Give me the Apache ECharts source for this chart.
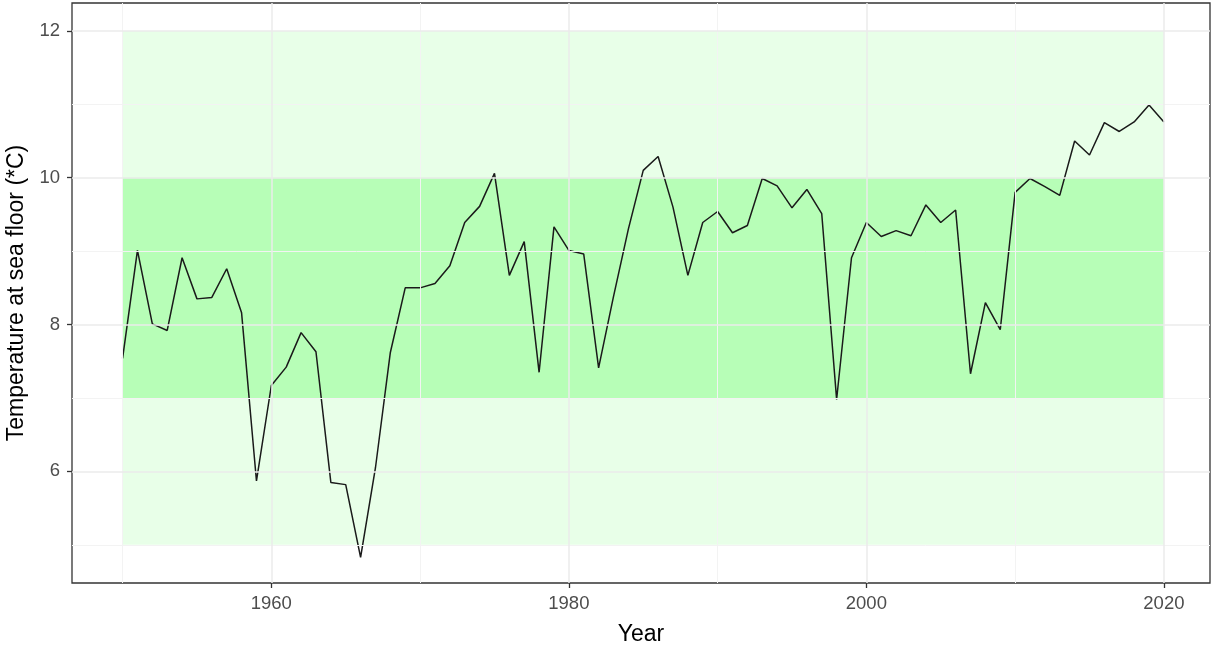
<!DOCTYPE html>
<html>
<head>
<meta charset="utf-8">
<script src="https://cdn.jsdelivr.net/npm/echarts@6/dist/echarts.min.js"></script>
<style>
  html, body { margin: 0; padding: 0; background: #fff; }
  #chart { width: 1212px; height: 646px; }
</style>
</head>
<body>
<div id="chart"></div>
<script>
// Annual sea-floor temperature, 1950-2020
const years = [
  1950, 1951, 1952, 1953, 1954, 1955, 1956, 1957, 1958, 1959,
  1960, 1961, 1962, 1963, 1964, 1965, 1966, 1967, 1968, 1969,
  1970, 1971, 1972, 1973, 1974, 1975, 1976, 1977, 1978, 1979,
  1980, 1981, 1982, 1983, 1984, 1985, 1986, 1987, 1988, 1989,
  1990, 1991, 1992, 1993, 1994, 1995, 1996, 1997, 1998, 1999,
  2000, 2001, 2002, 2003, 2004, 2005, 2006, 2007, 2008, 2009,
  2010, 2011, 2012, 2013, 2014, 2015, 2016, 2017, 2018, 2019,
  2020
];
const temperature = [
  7.54, 9.01, 8.01, 7.92, 8.91, 8.35, 8.37, 8.76, 8.16, 5.87,
  7.17, 7.42, 7.89, 7.63, 5.85, 5.82, 4.83, 6.05, 7.62, 8.50,
  8.50, 8.56, 8.80, 9.39, 9.61, 10.06, 8.67, 9.13, 7.35, 9.33,
  9.01, 8.96, 7.41, 8.38, 9.30, 10.10, 10.29, 9.60, 8.67, 9.39,
  9.54, 9.25, 9.35, 9.99, 9.89, 9.59, 9.84, 9.51, 6.98, 8.91,
  9.39, 9.20, 9.28, 9.21, 9.63, 9.39, 9.56, 7.33, 8.30, 7.93,
  9.80, 9.99, 9.88, 9.76, 10.50, 10.31, 10.75, 10.63, 10.76, 10.99,
  10.76
];

// Tolerance bands: outer range and optimal range
const outerBand = { x: [1950, 2020], y: [5, 12] };
const innerBand = { x: [1950, 2020], y: [7, 10] };

// Axis ticks and grid breaks
const xTicks = [1960, 1980, 2000, 2020];
const xMinor = [1950, 1970, 1990, 2010];
const yTicks = [6, 8, 10, 12];
const yMinor = [5, 7, 9, 11];

const FONT = 'Liberation Sans, Arial, sans-serif';
const majorGrid = { color: '#EBEBEB', width: 1.5, type: 'solid' };
const minorGrid = { color: '#F3F3F3', width: 1, type: 'solid' };

const gridLines = []
  .concat(xMinor.map(v => ({ xAxis: v, lineStyle: minorGrid })))
  .concat(yMinor.map(v => ({ yAxis: v, lineStyle: minorGrid })))
  .concat(xTicks.map(v => ({ xAxis: v, lineStyle: majorGrid })))
  .concat(yTicks.map(v => ({ yAxis: v, lineStyle: majorGrid })));

const chart = echarts.init(document.getElementById('chart'), null, { renderer: 'canvas' });

chart.setOption({
  animation: false,
  backgroundColor: '#ffffff',
  grid: {
    left: 72, right: 2, top: 3, bottom: 63,
    outerBoundsMode: 'none',
    containLabel: false,
    show: true, backgroundColor: '#ffffff',
    borderColor: '#333333', borderWidth: 1.3
  },
  xAxis: {
    type: 'value',
    min: 1946.6, max: 2023.1,
    name: 'Year',
    nameLocation: 'middle',
    nameGap: 40,
    nameTextStyle: { color: '#000000', fontSize: 23, fontFamily: FONT },
    axisLine: { show: false },
    axisTick: { show: true, length: 5, customValues: xTicks, lineStyle: { color: '#333333', width: 1.3 } },
    axisLabel: {
      customValues: xTicks, color: '#4D4D4D', fontSize: 18.5, fontFamily: FONT, margin: 11,
      formatter: v => String(v)
    },
    splitLine: { show: false }
  },
  yAxis: {
    type: 'value',
    min: 4.48, max: 12.38,
    name: 'Temperature at sea floor (*C)',
    nameLocation: 'middle',
    nameGap: 42,
    nameTextStyle: { color: '#000000', fontSize: 23, fontFamily: FONT },
    axisLine: { show: false },
    axisTick: { show: true, length: 5, customValues: yTicks, lineStyle: { color: '#333333', width: 1.3 } },
    axisLabel: {
      customValues: yTicks, color: '#4D4D4D', fontSize: 18.5, fontFamily: FONT, margin: 12,
      formatter: v => String(v)
    },
    splitLine: { show: false }
  },
  series: [
    {
      name: 'grid',
      type: 'line',
      data: [],
      z: 1,
      silent: true,
      markLine: {
        silent: true,
        symbol: ['none', 'none'],
        label: { show: false },
        animation: false,
        data: gridLines
      }
    },
    {
      name: 'bands',
      type: 'line',
      data: [],
      z: 2,
      silent: true,
      markArea: {
        silent: true,
        label: { show: false },
        data: [
          [
            { xAxis: outerBand.x[0], yAxis: outerBand.y[0], itemStyle: { color: 'rgba(0,252,0,0.09)' } },
            { xAxis: outerBand.x[1], yAxis: outerBand.y[1] }
          ],
          [
            { xAxis: innerBand.x[0], yAxis: innerBand.y[0], itemStyle: { color: 'rgba(0,248,0,0.21)' } },
            { xAxis: innerBand.x[1], yAxis: innerBand.y[1] }
          ]
        ]
      }
    },
    {
      name: 'Temperature',
      type: 'line',
      z: 3,
      data: years.map((y, i) => [y, temperature[i]]),
      showSymbol: false,
      symbol: 'none',
      lineStyle: { color: '#1a1a1a', width: 1.5 }
    }
  ]
});
</script>
</body>
</html>
